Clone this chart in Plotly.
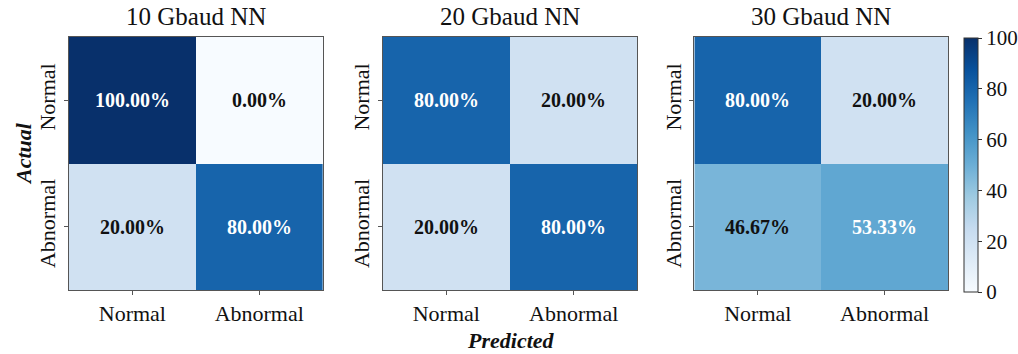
import plotly.graph_objects as go

W, H = 1018, 354

labels = ["Normal", "Abnormal"]
titles = ["10 Gbaud NN", "20 Gbaud NN", "30 Gbaud NN"]
# confusion matrices in percent, rows = actual, cols = predicted
cm_10 = [[100.00, 0.00], [20.00, 80.00]]
cm_20 = [[80.00, 20.00], [20.00, 80.00]]
cm_30 = [[80.00, 20.00], [46.67, 53.33]]
matrices = [cm_10, cm_20, cm_30]
cbar_ticks = [0, 20, 40, 60, 80, 100]

FONT = "Times New Roman, Liberation Serif, serif"
EDGE = "#555555"

# panel placement in pixels (left, right), shared top/bottom
panels_px = [(69, 323), (383, 638), (695, 949)]
top_px, bot_px = 37, 290

def px_x(p):
    return p / W

def px_y(p):
    return 1 - p / H

fig = go.Figure()
annotations = []

for i, (cm, title, (l, r)) in enumerate(zip(matrices, titles, panels_px)):
    xa = "x" if i == 0 else f"x{i+1}"
    ya = "y" if i == 0 else f"y{i+1}"
    fig.add_trace(go.Heatmap(
        z=cm, x=labels, y=labels,
        colorscale="Blues", zmin=0, zmax=100,
        xaxis=xa, yaxis=ya,
        showscale=(i == 2),
        colorbar=dict(
            x=px_x(964), xanchor="left", xref="paper", xpad=0, ypad=0,
            y=px_y((38 + 292) / 2), yanchor="middle",
            len=(292 - 38) / H, lenmode="fraction",
            thickness=14, outlinewidth=1, outlinecolor="#333",
            tickvals=cbar_ticks, ticks="outside", ticklen=4,
            tickcolor="#333",
            tickfont=dict(family=FONT, size=21, color="#111"),
        ),
        hoverinfo="skip",
    ))
    layout_x = dict(
        domain=[px_x(l), px_x(r)], anchor=ya,
        showline=True, mirror=True, linecolor=EDGE, linewidth=1,
        ticks="outside", ticklen=4, tickcolor=EDGE,
        tickfont=dict(family=FONT, size=22, color="#111"),
        showgrid=False, zeroline=False, fixedrange=True,
    )
    layout_y = dict(
        domain=[px_y(bot_px), px_y(top_px)], anchor=xa,
        autorange="reversed",
        showline=True, mirror=True, linecolor=EDGE, linewidth=1,
        ticks="outside", ticklen=4, tickcolor=EDGE, tickangle=-90,
        tickfont=dict(family=FONT, size=22, color="#111"),
        showgrid=False, zeroline=False, fixedrange=True,
    )
    fig.layout[("xaxis" if i == 0 else f"xaxis{i+1}")] = layout_x
    fig.layout[("yaxis" if i == 0 else f"yaxis{i+1}")] = layout_y

    # cell values
    for ri, row in enumerate(cm):
        for ci, v in enumerate(row):
            annotations.append(dict(
                x=labels[ci], y=labels[ri], xref=xa, yref=ya,
                text=f"<b>{v:.2f}%</b>", showarrow=False,
                font=dict(family=FONT, size=20,
                          color="white" if v > 50 else "#111"),
            ))
    # panel title
    annotations.append(dict(
        x=px_x((l + r) / 2), y=px_y(16), xref="paper", yref="paper",
        text=title, showarrow=False, xanchor="center", yanchor="middle",
        font=dict(family=FONT, size=25, color="#111"),
    ))

annotations.append(dict(
    x=px_x(24), y=px_y(153), xref="paper", yref="paper",
    text="<b><i>Actual</i></b>", showarrow=False, textangle=-90,
    xanchor="center", yanchor="middle",
    font=dict(family=FONT, size=22, color="#111"),
))
annotations.append(dict(
    x=px_x(512), y=px_y(340), xref="paper", yref="paper",
    text="<b><i>Predicted</i></b>", showarrow=False,
    xanchor="center", yanchor="middle",
    font=dict(family=FONT, size=22, color="#111"),
))

fig.update_layout(
    width=W, height=H,
    margin=dict(l=0, r=0, t=0, b=0),
    paper_bgcolor="white", plot_bgcolor="white",
    annotations=annotations,
    showlegend=False,
)

fig.write_html("out.html")
